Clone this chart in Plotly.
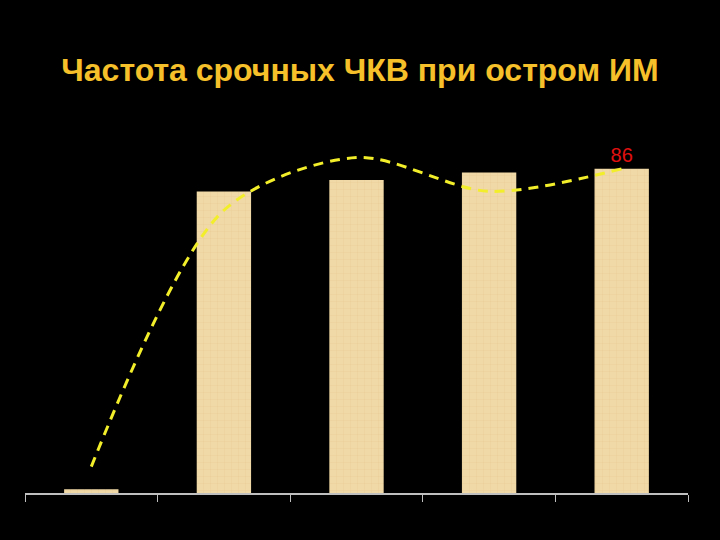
import plotly.graph_objects as go

# data
categories = ["1", "2", "3", "4", "5"]
bar_values = [1, 80, 83, 85, 86]
trend_values = [7, 75, 89, 80, 86]
bar_labels = ["", "", "", "", "86"]

fig = go.Figure()

fig.add_trace(go.Bar(
    x=categories,
    y=bar_values,
    width=0.41,
    text=bar_labels,
    textposition="outside",
    textfont=dict(color="#E01010", size=20, family="Liberation Sans, Arial"),
    cliponaxis=False,
    marker=dict(
        color="#F0D9A6",
        line=dict(width=0),
        pattern=dict(shape="+", fgcolor="#E3C58F", size=7, solidity=0.15),
    ),
))

fig.add_trace(go.Scatter(
    x=categories,
    y=trend_values,
    mode="lines",
    line=dict(color="#F2EE2A", width=3, dash="10px,7px", shape="spline", smoothing=0.85),
))

fig.update_layout(
    width=720, height=540,
    paper_bgcolor="black", plot_bgcolor="black",
    showlegend=False,
    margin=dict(l=25, r=32, t=116, b=47),
    title=dict(
        text="<b>Частота срочных ЧКВ при остром ИМ</b>",
        x=0.5, xanchor="center", y=0.87, yanchor="middle",
        font=dict(color="#F5C02A", size=32, family="Liberation Sans, Arial"),
    ),
)
fig.update_xaxes(
    showline=True, linecolor="#BFBFBF", linewidth=1.5,
    ticks="outside", tickson="boundaries", tickcolor="#BFBFBF", ticklen=7,
    showticklabels=False, showgrid=False, zeroline=False,
)
fig.update_yaxes(range=[0, 100], visible=False, showgrid=False, zeroline=False)

# drop the default page margin so the figure fills the window
fig.write_html(
    "out.html",
    config={"displayModeBar": False},
    post_script="document.body.style.margin='0';document.body.style.background='black';",
)
